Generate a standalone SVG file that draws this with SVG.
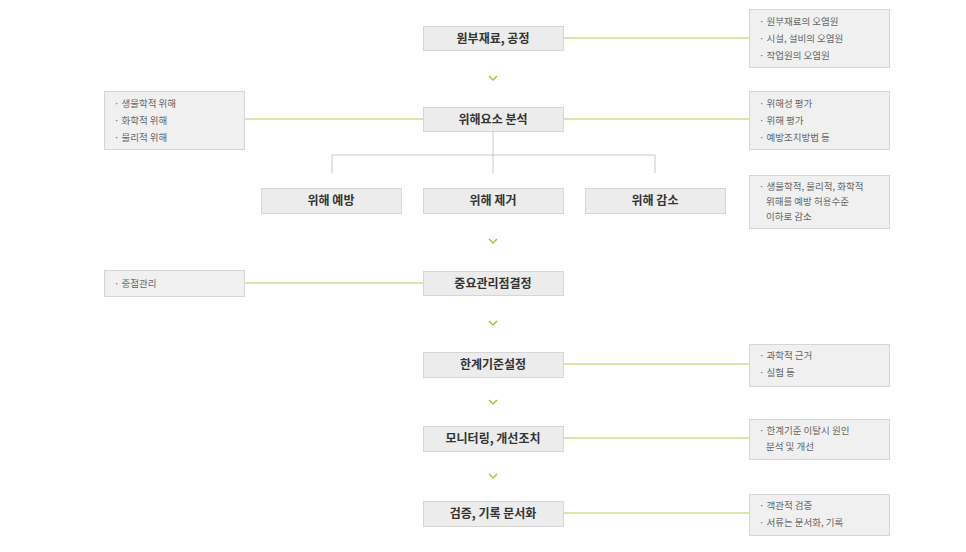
<svg xmlns="http://www.w3.org/2000/svg" width="966" height="552" viewBox="0 0 966 552">
<style>
text{font-family:"Noto Sans CJK KR","Noto Sans",sans-serif}
.m rect{fill:#ececec;stroke:#d6d6d6}
.m text{font-size:12px;font-weight:bold;fill:#333;text-anchor:middle}
.s rect{fill:#f0f0f0;stroke:#d6d6d6}
.s text{font-size:9.5px;fill:#666}
.g{stroke:#a9d35a;stroke-width:1.2;fill:none}
.b{stroke:#c8c8c8;stroke-width:1;fill:none}
.c{stroke:#9bc83c;stroke-width:1.5;fill:none}
</style>
<rect width="966" height="552" fill="#fff"/>
<g id="connectors">
<line class="g" x1="563" y1="38" x2="749" y2="38"/>
<line class="g" x1="244" y1="119" x2="423" y2="119"/>
<line class="g" x1="563" y1="119" x2="749" y2="119"/>
<line class="g" x1="244" y1="283" x2="423" y2="283"/>
<line class="g" x1="563" y1="364" x2="749" y2="364"/>
<line class="g" x1="563" y1="438" x2="749" y2="438"/>
<line class="g" x1="563" y1="513" x2="749" y2="513"/>
<path class="b" d="M493 131V173M332 173V155H655V173"/>
<path class="c" d="M489 76l4 4 4-4M489 239l4 4 4-4M489 321l4 4 4-4M489 400l4 4 4-4M489 474l4 4 4-4"/>
</g>
<g id="n1" class="m"><rect x="423.5" y="26.5" width="140" height="24"/><text x="493" y="43">원부재료, 공정</text></g>
<g id="n2" class="m"><rect x="423.5" y="107.5" width="140" height="24"/><text x="493" y="124">위해요소 분석</text></g>
<g id="n3" class="m"><rect x="261.5" y="188.5" width="140" height="25"/><text x="331" y="205">위해 예방</text></g>
<g id="n4" class="m"><rect x="423.5" y="188.5" width="140" height="25"/><text x="493" y="205">위해 제거</text></g>
<g id="n5" class="m"><rect x="585.5" y="188.5" width="140" height="25"/><text x="655" y="205">위해 감소</text></g>
<g id="n6" class="m"><rect x="423.5" y="271.5" width="140" height="24"/><text x="493" y="288">중요관리점결정</text></g>
<g id="n7" class="m"><rect x="423.5" y="352.5" width="140" height="25"/><text x="493" y="369">한계기준설정</text></g>
<g id="n8" class="m"><rect x="423.5" y="426.5" width="140" height="25"/><text x="493" y="443">모니터링, 개선조치</text></g>
<g id="n9" class="m"><rect x="423.5" y="501.5" width="140" height="25"/><text x="493" y="518">검증, 기록 문서화</text></g>
<g id="r1" class="s"><rect x="749.5" y="9.5" width="140" height="58"/><text x="759" y="25">· 원부재료의 오염원</text><text x="759" y="42">· 시설, 설비의 오염원</text><text x="759" y="59">· 작업원의 오염원</text></g>
<g id="r2" class="s"><rect x="749.5" y="91.5" width="140" height="58"/><text x="759" y="107">· 위해성 평가</text><text x="759" y="124">· 위해 평가</text><text x="759" y="141">· 예방조치방법 등</text></g>
<g id="r3" class="s"><rect x="749.5" y="175.5" width="140" height="53"/><text x="759" y="190">· 생물학적, 물리적, 화학적</text><text x="766" y="205">위해를 예방 허용수준</text><text x="766" y="220">이하로 감소</text></g>
<g id="l1" class="s"><rect x="104.5" y="91.5" width="140" height="58"/><text x="114" y="107">· 생물학적 위해</text><text x="114" y="124">· 화학적 위해</text><text x="114" y="141">· 물리적 위해</text></g>
<g id="l2" class="s"><rect x="104.5" y="270.5" width="140" height="26"/><text x="114" y="287">· 중점관리</text></g>
<g id="r4" class="s"><rect x="749.5" y="344.5" width="140" height="42"/><text x="759" y="359">· 과학적 근거</text><text x="759" y="376">· 실험 등</text></g>
<g id="r5" class="s"><rect x="749.5" y="419.5" width="140" height="40"/><text x="759" y="434">· 한계기준 이탈시 원인</text><text x="766" y="450">분석 및 개선</text></g>
<g id="r6" class="s"><rect x="749.5" y="494.5" width="140" height="41"/><text x="759" y="509">· 객관적 검증</text><text x="759" y="526">· 서류는 문서화, 기록</text></g>
</svg>
